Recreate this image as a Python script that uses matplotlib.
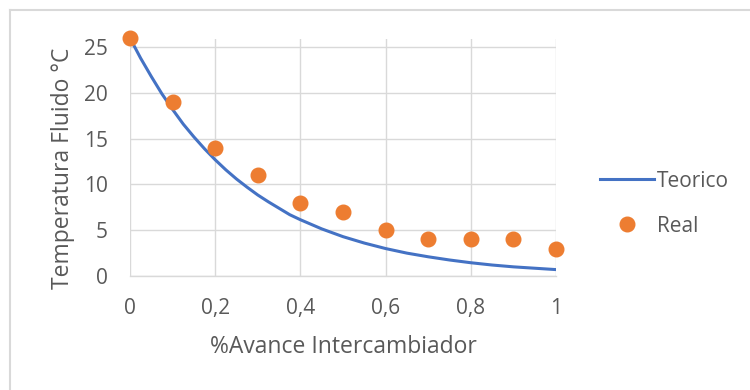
import matplotlib
matplotlib.use("Agg")
import matplotlib.pyplot as plt
from matplotlib.lines import Line2D

# Data
x_teo = [0.0, 0.025, 0.05, 0.075, 0.1, 0.125, 0.15, 0.175, 0.2, 0.225, 0.25,
         0.275, 0.3, 0.325, 0.35, 0.375, 0.4, 0.45, 0.5, 0.55, 0.6, 0.65,
         0.7, 0.75, 0.8, 0.85, 0.9, 0.95, 1.0]
y_teo = [26.0, 23.8, 21.8, 19.9, 18.2, 16.6, 15.2, 13.9, 12.7, 11.6, 10.6,
         9.7, 8.85, 8.1, 7.4, 6.7, 6.15, 5.15, 4.3, 3.6, 3.0, 2.5,
         2.1, 1.75, 1.45, 1.2, 1.0, 0.85, 0.7]
x_real = [0.0, 0.1, 0.2, 0.3, 0.4, 0.5, 0.6, 0.7, 0.8, 0.9, 1.0]
y_real = [26, 19, 14, 11, 8, 7, 5, 4, 4, 4, 3]
x_ticks = [0, 0.2, 0.4, 0.6, 0.8, 1.0]
x_ticklabels = ["0", "0,2", "0,4", "0,6", "0,8", "1"]
y_ticks = [0, 5, 10, 15, 20, 25]

plt.rcParams['font.family'] = ['Open Sans', 'DejaVu Sans']
txt = '#595959'
grid = '#d9d9d9'

fig = plt.figure(figsize=(7.5, 3.9), dpi=100)
ax = fig.add_axes([130/750, 1-276/390, (556-130)/750, (276-39)/390])

ax.plot(x_teo, y_teo, color='#4472C4', lw=2.2, label='Teorico', zorder=3,
        solid_joinstyle='round')
ax.plot(x_real, y_real, 'o', color='#ED7D31', ms=10.5, label='Real', zorder=4, clip_on=False)

ax.set_xlim(0, 1)
ax.set_ylim(0, 25.9)
ax.set_xticks(x_ticks)
ax.set_xticklabels(x_ticklabels)
ax.set_yticks(y_ticks)
ax.grid(True, color=grid, lw=1)
ax.set_axisbelow(True)
for s in ['top', 'right', 'left']:
    ax.spines[s].set_visible(False)
ax.spines['bottom'].set_color(grid)
ax.spines['bottom'].set_linewidth(1)
ax.tick_params(length=0, labelsize=15, colors=txt)
ax.tick_params(axis='x', pad=16)
ax.tick_params(axis='y', pad=16)

ax.set_xlabel('%Avance Intercambiador', fontsize=16.5, color=txt, va='center')
ax.xaxis.set_label_coords(0.5, (276-347)/237)
ax.set_ylabel('Temperatura Fluido °C', fontsize=16.5, color=txt, va='center')
ax.yaxis.set_label_coords((63-130)/426, (276-168)/237)

leg = ax.legend(loc='center left', bbox_to_anchor=(1.06, 0.305), frameon=False,
                fontsize=15, labelcolor=txt, handlelength=2.6, handletextpad=0.1,
                labelspacing=1.15)

fig.add_artist(Line2D([10/750, 1.0], [1-10/390, 1-10/390], color=grid, lw=1.5))
fig.add_artist(Line2D([10/750, 10/750], [0, 1-10/390], color=grid, lw=1.5))

fig.savefig('out.png', dpi=100)
